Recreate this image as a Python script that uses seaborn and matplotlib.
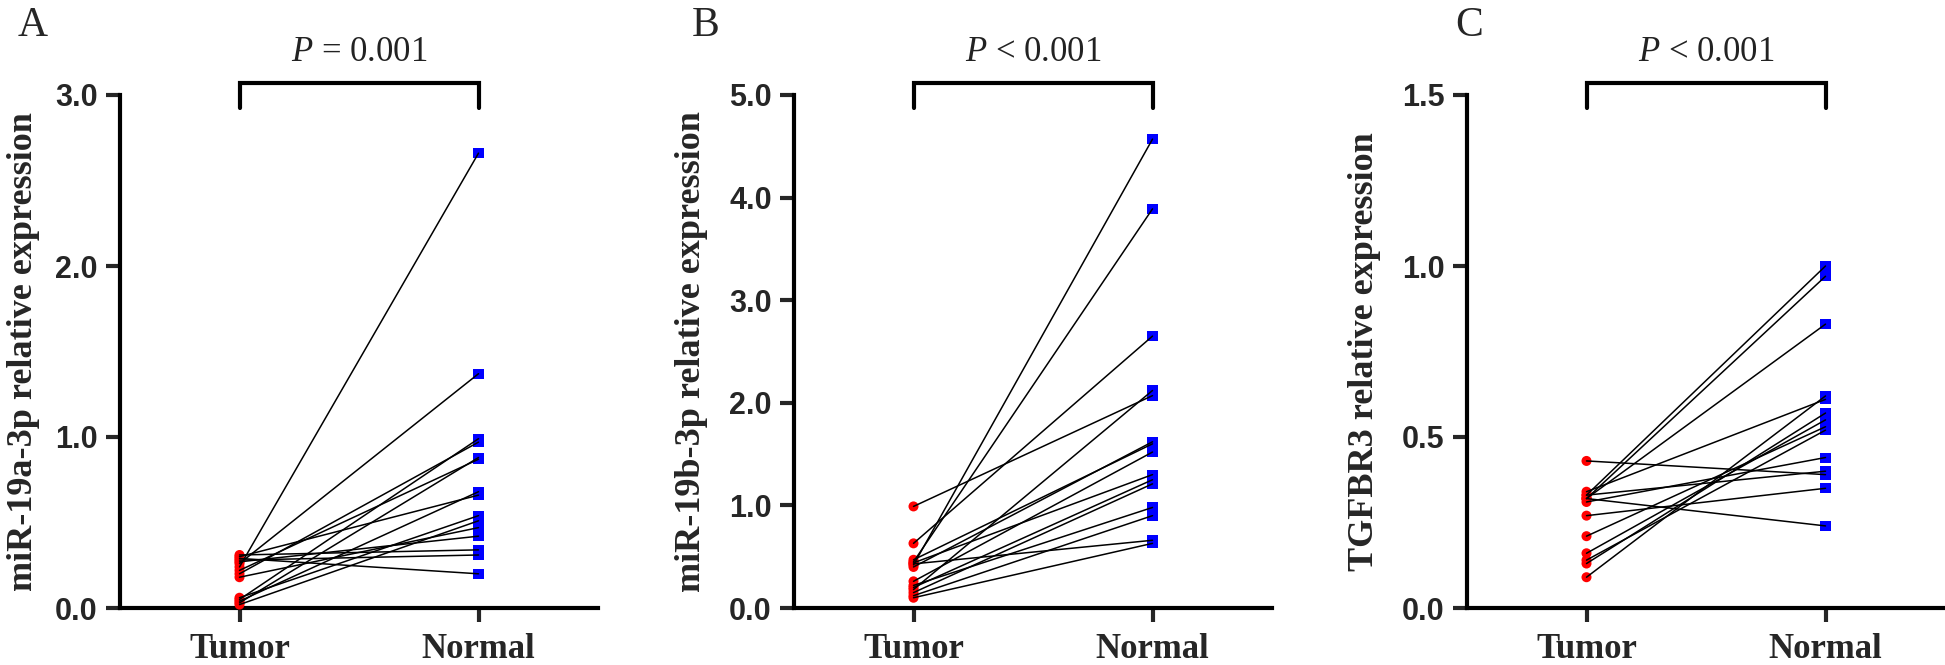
import matplotlib
matplotlib.use("Agg")
import matplotlib.pyplot as plt
import pandas as pd
import seaborn as sns

# paired samples (tumor[i] is paired with normal[i])
groups = ["Tumor", "Normal"]

tumor_a = [0.24, 0.26, 0.05, 0.20, 0.03, 0.22, 0.04, 0.30, 0.06, 0.02, 0.18, 0.27, 0.31, 0.28, 0.29]
normal_a = [2.66, 1.37, 0.99, 0.97, 0.88, 0.87, 0.68, 0.66, 0.54, 0.51, 0.47, 0.42, 0.34, 0.31, 0.20]

tumor_b = [0.42, 0.45, 0.63, 0.99, 0.18, 0.40, 0.47, 0.26, 0.44, 0.15, 0.22, 0.12, 0.43, 0.10, 0.20]
normal_b = [4.57, 3.89, 2.65, 2.07, 2.12, 1.62, 1.60, 1.52, 1.30, 1.21, 0.98, 0.90, 0.66, 0.63, 1.25]

tumor_c = [0.33, 0.32, 0.32, 0.09, 0.34, 0.13, 0.16, 0.21, 0.14, 0.31, 0.33, 0.43, 0.27, 0.32]
normal_c = [1.00, 0.97, 0.83, 0.62, 0.61, 0.57, 0.55, 0.53, 0.52, 0.44, 0.40, 0.39, 0.35, 0.24]

panel_letters = ["A", "B", "C"]
y_labels = ["miR-19a-3p relative expression",
            "miR-19b-3p relative expression",
            "TGFBR3 relative expression"]
p_labels = ["$P$ = 0.001", "$P$ < 0.001", "$P$ < 0.001"]
y_max = [3.0, 5.0, 1.5]
y_step = [1.0, 1.0, 0.5]


def paired_frame(tumor, normal):
    rows = []
    for i, (t, n) in enumerate(zip(tumor, normal)):
        rows.append({"pair": i, "group": groups[0], "pos": 0, "value": t})
        rows.append({"pair": i, "group": groups[1], "pos": 1, "value": n})
    return pd.DataFrame(rows)


sns.set_theme(style="white")
plt.rcParams["font.family"] = ["Liberation Serif", "DejaVu Serif"]
plt.rcParams["mathtext.fontset"] = "custom"
plt.rcParams["mathtext.it"] = "Liberation Serif:italic"
plt.rcParams["mathtext.rm"] = "Liberation Serif"

W, H = 1945, 665
fig = plt.figure(figsize=(W / 100, H / 100), dpi=100)

spine_px = [120, 794, 1467]
label_off = [-0.201, -0.215, -0.215]
letter_px = [18, 692, 1455]
frames = [paired_frame(tumor_a, normal_a),
          paired_frame(tumor_b, normal_b),
          paired_frame(tumor_c, normal_c)]

for k, df in enumerate(frames):
    ax = fig.add_axes([spine_px[k] / W, 57 / H, 478 / W, 513 / H])

    sns.scatterplot(data=df, x="pos", y="value", hue="group", style="group",
                    palette={"Tumor": "#ff0000", "Normal": "#0000ff"},
                    markers={"Tumor": "o", "Normal": "s"},
                    s=52, linewidth=0, legend=False, ax=ax, zorder=3, clip_on=False)
    sns.lineplot(data=df, x="pos", y="value", units="pair", estimator=None,
                 color="black", lw=1.1, legend=False, ax=ax, zorder=4)

    ax.set_xlim(-0.5, 1.5)
    ax.set_ylim(0, y_max[k])
    n = int(round(y_max[k] / y_step[k]))
    ticks = [i * y_step[k] for i in range(n + 1)]
    ax.set_yticks(ticks)
    ax.set_yticklabels([f"{t:.1f}" for t in ticks], fontfamily="Liberation Sans",
                       fontweight="bold", fontsize=22)
    ax.set_xticks([0, 1])
    ax.set_xticklabels(groups, fontfamily="Liberation Serif", fontweight="bold", fontsize=25)
    ax.tick_params(axis="y", direction="out", length=10, width=3, pad=6, left=True)
    ax.tick_params(axis="x", direction="out", length=10, width=3, pad=8, bottom=True)

    ax.set_xlabel("")
    ax.set_ylabel(y_labels[k], fontfamily="Liberation Serif", fontweight="bold",
                  fontsize=26, va="center")
    ax.yaxis.set_label_coords(label_off[k], 0.5)

    sns.despine(ax=ax)
    for side in ("left", "bottom"):
        ax.spines[side].set_linewidth(3)
        ax.spines[side].set_color("black")

    # significance bracket
    tr = ax.get_xaxis_transform()
    ax.plot([0, 0, 1, 1], [0.975, 1.023, 1.023, 0.975], transform=tr,
            color="black", lw=3, clip_on=False, solid_joinstyle="miter")
    ax.text(0.5, 1.05, p_labels[k], transform=tr, ha="center", va="bottom",
            fontsize=25, color="#222222", fontfamily="Liberation Serif")

    fig.text(letter_px[k] / W, 1 - 6 / H, panel_letters[k], ha="left", va="top",
             fontsize=30, fontfamily="Liberation Serif")

fig.savefig("out.png", dpi=100)
